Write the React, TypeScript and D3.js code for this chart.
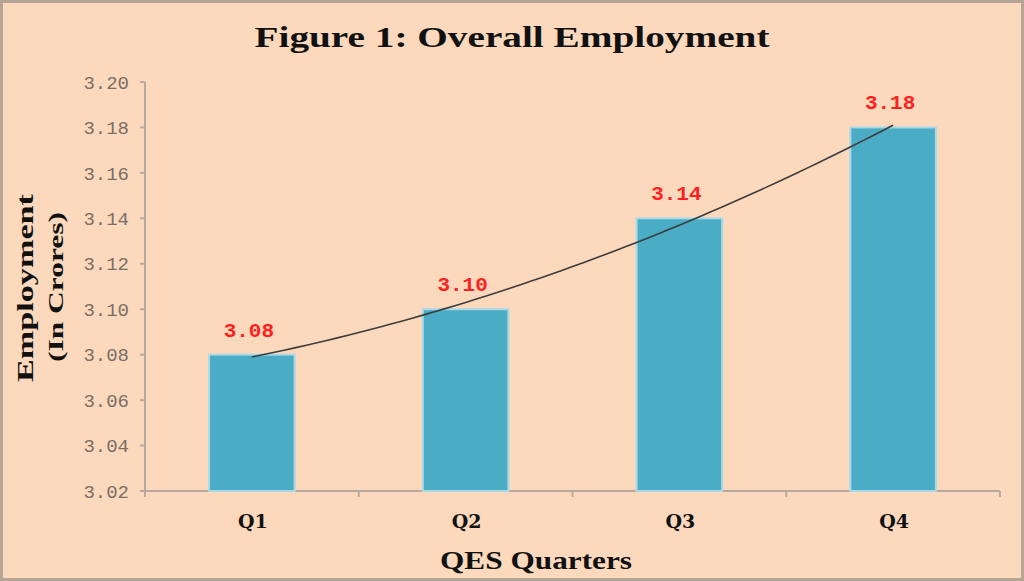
import React from "react";
import * as d3 from "d3";

const categories = ["Q1", "Q2", "Q3", "Q4"];
const values = [3.08, 3.1, 3.14, 3.18];
const valueLabels = ["3.08", "3.10", "3.14", "3.18"];
const yTicks = [3.02, 3.04, 3.06, 3.08, 3.1, 3.12, 3.14, 3.16, 3.18, 3.2];
const titleText = "Figure 1: Overall Employment";
const yTitle1 = "Employment";
const yTitle2 = "(In Crores)";
const xTitle = "QES Quarters";

const W = 1024;
const H = 581;
const left = 145;
const right = 1000;
const top = 82;
const bottom = 491;

// quadratic least-squares trendline (Excel polynomial order 2)
function polyFit(ys: number[]) {
  const n = ys.length;
  const xs = ys.map((_, i) => i + 1);
  const mx = d3.mean(xs) as number;
  const t = xs.map((x) => x - mx);
  const t2m = (d3.mean(t.map((v) => v * v)) as number);
  const p = t.map((v) => v * v - t2m);
  const a = d3.mean(ys) as number;
  const b = d3.sum(t.map((v, i) => v * ys[i])) / d3.sum(t.map((v) => v * v));
  const c = d3.sum(p.map((v, i) => v * ys[i])) / d3.sum(p.map((v) => v * v));
  return (x: number) => {
    const tt = x - mx;
    return a + b * tt + c * (tt * tt - t2m);
  };
}

export default function App() {
  React.useEffect(() => {
    document.body.style.margin = "0";
  }, []);

  const x = d3.scaleBand<string>().domain(categories).range([left, right]).paddingInner(0.6).paddingOuter(0.3);
  const xb = d3.scaleBand<string>().domain(categories).range([left, right]);
  const y = d3.scaleLinear().domain([3.02, 3.2]).range([bottom, top]);

  const fit = polyFit(values);
  const pos = d3.scaleLinear().domain([1, 4]).range([
    (xb("Q1") as number) + xb.bandwidth() / 2,
    (xb("Q4") as number) + xb.bandwidth() / 2,
  ]);
  const samples = d3.range(1, 4.0001, 0.05);
  const line = d3
    .line<number>()
    .x((d) => pos(d))
    .y((d) => y(fit(d)))
    .curve(d3.curveMonotoneX);

  const numFont = "'Liberation Mono', 'DejaVu Sans Mono', monospace";
  const serif = "'DejaVu Serif', 'Liberation Serif', serif";

  return (
    <svg width={W} height={H} style={{ display: "block", position: "absolute", left: 0, top: 0 }}>
      <rect x={0} y={0} width={W} height={H} fill="#FCD9BC" />
      <rect x={1.5} y={1.5} width={W - 3} height={H - 3} fill="none" stroke="#B5A597" strokeWidth={3} />

      <text
        x={512}
        y={47}
        textAnchor="middle"
        fontFamily="'Liberation Serif', serif"
        fontWeight="bold"
        fontSize={29}
        textLength={515}
        lengthAdjust="spacingAndGlyphs"
        fill="#111"
      >
        {titleText}
      </text>

      {/* y axis */}
      <line x1={left} x2={left} y1={top} y2={bottom} stroke="#B8AAA0" strokeWidth={2} />
      {yTicks.map((t) => (
        <g key={t}>
          <line x1={left - 5} x2={left} y1={y(t)} y2={y(t)} stroke="#B8AAA0" strokeWidth={2} />
          <text
            x={129}
            y={y(t)}
            dy="0.35em"
            textAnchor="end"
            fontFamily={numFont}
            fontSize={19}
            fill="#7A6E66"
          >
            {t.toFixed(2)}
          </text>
        </g>
      ))}

      {/* x axis */}
      <line x1={left} x2={right} y1={bottom} y2={bottom} stroke="#B8AAA0" strokeWidth={2} />
      {[...categories.map((c) => xb(c) as number), right].map((v, i) => (
        <line key={i} x1={v} x2={v} y1={bottom} y2={bottom + 6} stroke="#B8AAA0" strokeWidth={2} />
      ))}

      {/* bars */}
      {categories.map((c, i) => (
        <rect
          key={c}
          x={x(c) as number}
          y={y(values[i])}
          width={x.bandwidth()}
          height={bottom - y(values[i])}
          fill="#4BACC6"
          stroke="#A9D8E6"
          strokeWidth={2}
        />
      ))}

      {/* trendline */}
      <path d={line(samples) as string} fill="none" stroke="#3C3C3C" strokeWidth={1.6} />

      {/* value labels */}
      {categories.map((c, i) => (
        <text
          key={c}
          x={(x(c) as number) + x.bandwidth() / 2 - 3}
          y={y(values[i]) - 18}
          textAnchor="middle"
          fontFamily={numFont}
          fontWeight="bold"
          fontSize={21}
          fill="#FF2020"
        >
          {valueLabels[i]}
        </text>
      ))}

      {/* x labels */}
      {categories.map((c) => (
        <text
          key={c}
          x={(xb(c) as number) + xb.bandwidth() / 2 + 1}
          y={528}
          textAnchor="middle"
          fontFamily={serif}
          fontWeight="bold"
          fontSize={19}
          fill="#111"
        >
          {c}
        </text>
      ))}

      <text
        x={536}
        y={569}
        textAnchor="middle"
        fontFamily="'Liberation Serif', serif"
        fontWeight="bold"
        fontSize={25}
        textLength={192}
        lengthAdjust="spacingAndGlyphs"
        fill="#111"
      >
        {xTitle}
      </text>

      <text
        transform="translate(33,288) rotate(-90)"
        textAnchor="middle"
        fontFamily="'Liberation Serif', serif"
        fontWeight="bold"
        fontSize={23}
        textLength={188}
        lengthAdjust="spacingAndGlyphs"
        fill="#111"
      >
        {yTitle1}
      </text>
      <text
        transform="translate(63,287) rotate(-90)"
        textAnchor="middle"
        fontFamily="'Liberation Serif', serif"
        fontWeight="bold"
        fontSize={22}
        textLength={150}
        lengthAdjust="spacingAndGlyphs"
        fill="#111"
      >
        {yTitle2}
      </text>
    </svg>
  );
}
